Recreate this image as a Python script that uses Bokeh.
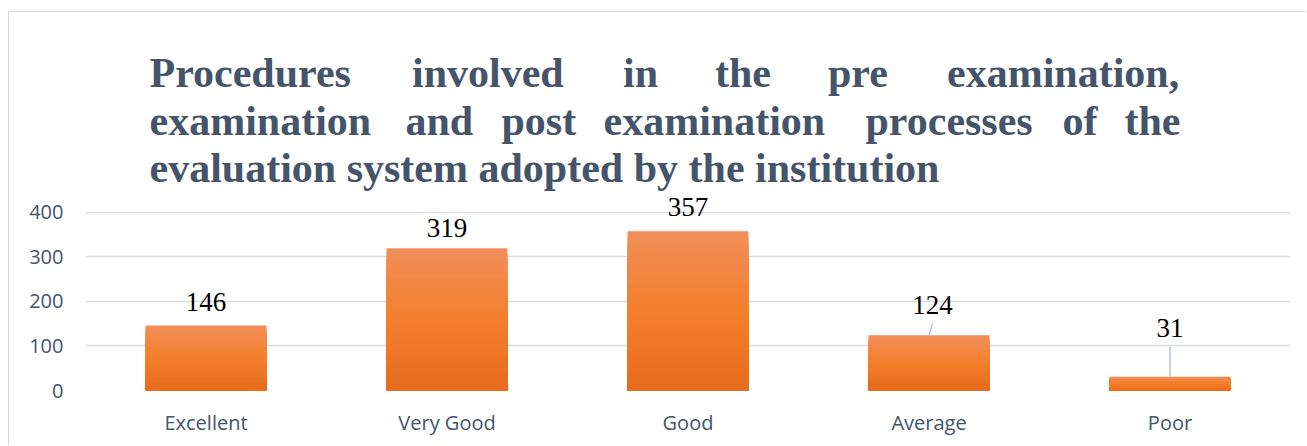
import numpy as np
from bokeh.plotting import figure
from bokeh.models import ColumnDataSource, FixedTicker, Label, LabelSet, Range1d, FactorRange
from bokeh.core.properties import value
from bokeh.embed import file_html
from bokeh.resources import INLINE

# ---------------- data ----------------
categories = ["Excellent", "Very Good", "Good", "Average", "Poor"]
counts = [146, 319, 357, 124, 31]
y_ticks = [0, 100, 200, 300, 400]
y_tick_labels = ["0", "100", "200", "300", "400"]

title_line1 = ["Procedures", "involved", "in", "the", "pre", "examination,"]
title_line2 = ["examination", "and", "post", "examination", "processes", "of", "the"]
title_line3 = "evaluation system adopted by the institution"

# ---------------- layout / style ----------------
PAGE_LEFT, PAGE_TOP = 9, 12          # canvas origin on the page (margin + border)
W, H = 1298, 434
B_LEFT, B_RIGHT, B_TOP, B_BOTTOM = 76, 17, 0, 56
frame_w = W - B_LEFT - B_RIGHT
frame_h = H - B_TOP - B_BOTTOM
px_per_unit = 178.3 / 400
Y_END = frame_h / px_per_unit
px_per_cat = frame_w / len(categories)
bar_width = 121 / px_per_cat

PAGE_FRAME_LEFT = PAGE_LEFT + B_LEFT
PAGE_FRAME_BOTTOM = PAGE_TOP + B_TOP + frame_h

line1_x = [149, 411.5, 622.5, 714.5, 827.5, 946.5]
line2_x = [149, 405, 501, 603, 865, 1062, 1124]
line3_x = 149
baselines = [72, 120, 167]

label_off_y = [14, 11, 15, 21.5, 40]
label_off_x = [0, 0, 0, 3.4, 0]

TITLE_COLOR = "#44546A"
AXIS_COLOR = "#44546A"
GRID_COLOR = "#D9DEE5"
LEADER_COLOR = "#B7C2D0"

grad_stops = [(0.0, (241, 142, 90)), (0.5, (244, 127, 44)), (1.0, (230, 107, 28))]


def grad_color(t):
    for (t0, c0), (t1, c1) in zip(grad_stops[:-1], grad_stops[1:]):
        if t <= t1:
            f = (t - t0) / (t1 - t0)
            c = [round(a + (b - a) * f) for a, b in zip(c0, c1)]
            return "#%02x%02x%02x" % tuple(c)
    return "#%02x%02x%02x" % grad_stops[-1][1]


p = figure(
    x_range=FactorRange(factors=categories),
    y_range=Range1d(0, Y_END),
    width=W, height=H,
    output_backend="svg",
    toolbar_location=None,
    min_border_left=B_LEFT, min_border_right=B_RIGHT,
    min_border_top=B_TOP, min_border_bottom=B_BOTTOM,
)
p.styles = {"border-top": "1px solid #D9D9D9", "border-left": "1px solid #D9D9D9",
            "margin-top": "11px", "margin-left": "8px"}
p.outline_line_color = None
p.background_fill_color = "white"
p.border_fill_color = "white"

# gridlines
p.xgrid.grid_line_color = None
p.ygrid.ticker = FixedTicker(ticks=y_ticks)
p.ygrid.grid_line_color = GRID_COLOR
p.ygrid.grid_line_width = 1.5

# bars with vertical gradient (stacked layers, each from 0 to a fraction of the value)
N = 24
for k in range(N):
    frac = 1 - k / N
    tops = [c * frac for c in counts]
    p.vbar(x=categories, top=tops, bottom=0, width=bar_width,
           fill_color=grad_color((k + 0.5) / N), line_color=None)

# leader lines for displaced labels
lx0, ly0, lx1, ly1 = [], [], [], []
for i, c in enumerate(counts):
    if label_off_y[i] > 18:
        lx0.append(i + 0.5)
        ly0.append(c)
        lx1.append(i + 0.5 + label_off_x[i] / px_per_cat)
        ly1.append(c + (label_off_y[i] - 10) / px_per_unit)
p.segment(x0=lx0, y0=ly0, x1=lx1, y1=ly1, line_color=LEADER_COLOR, line_width=1.5)

# data labels
src = ColumnDataSource(dict(x=categories, y=counts, t=[str(c) for c in counts],
                            xo=label_off_x, yo=label_off_y))
labels = LabelSet(x="x", y="y", text="t", source=src, x_offset="xo", y_offset="yo",
                  text_align="center", text_baseline="alphabetic",
                  text_font=value("Liberation Serif"), text_font_size="27px", text_color="black")
p.add_layout(labels)

# axes
p.yaxis.ticker = FixedTicker(ticks=y_ticks)
p.yaxis.major_label_overrides = {t: l for t, l in zip(y_ticks, y_tick_labels)}
for ax in (p.xaxis[0], p.yaxis[0]):
    ax.axis_line_color = None
    ax.major_tick_line_color = None
    ax.minor_tick_line_color = None
    ax.major_tick_out = 0
    ax.major_tick_in = 0
    ax.major_label_text_font = "Open Sans"
    ax.major_label_text_font_size = "20px"
    ax.major_label_text_color = AXIS_COLOR
p.yaxis.major_label_standoff = 22
p.xaxis.major_label_standoff = 18

# title (justified lines placed word by word)
def add_word(txt, page_x, page_baseline):
    p.add_layout(Label(x=page_x - PAGE_FRAME_LEFT, y=PAGE_FRAME_BOTTOM - page_baseline,
                       x_units="screen", y_units="screen", text=txt,
                       text_align="left", text_baseline="alphabetic",
                       text_font="Liberation Serif", text_font_style="bold",
                       text_font_size="42px", text_color=TITLE_COLOR))

for w, x in zip(title_line1, line1_x):
    add_word(w, x, baselines[0])
for w, x in zip(title_line2, line2_x):
    add_word(w, x, baselines[1])
add_word(title_line3, line3_x, baselines[2])

open("out.html", "w").write(file_html(p, INLINE))
